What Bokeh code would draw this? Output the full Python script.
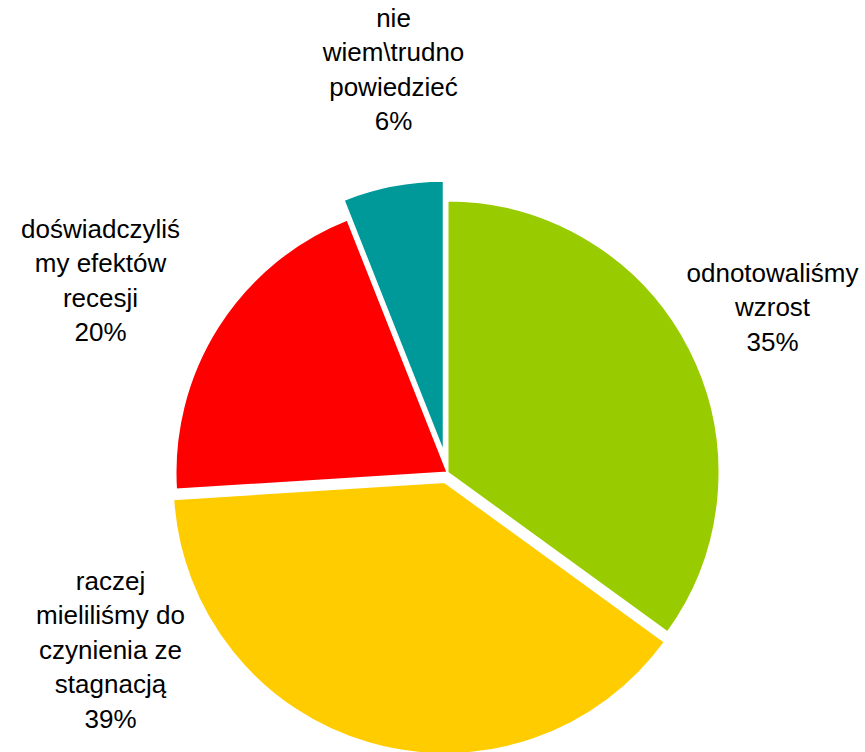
import math
from bokeh.plotting import figure
from bokeh.models import ColumnDataSource, Range1d
from bokeh.core.properties import value
from bokeh.embed import file_html
from bokeh.resources import INLINE

# ---- data ----
categories = ["odnotowaliśmy\nwzrost",
              "raczej\nmieliliśmy do\nczynienia ze\nstagnacją",
              "doświadczyliś\nmy efektów\nrecesji",
              "nie\nwiem\\trudno\npowiedzieć"]
shares = [35, 39, 20, 6]
colors = ["#99CC00", "#FFCC00", "#FF0000", "#009999"]

# ---- layout (picture-like coordinates: y measured from bottom of picture) ----
W, H = 865, 752
CX, CY, R = 447, 752 - 472, 272
explode = [0, 10, 0, 20]
label_pos = [(772, 752 - 272), (110, 752 - 580), (100, 752 - 228), (393, 752 - 17)]
LINE = 34.5
FONT = "Liberation Sans"
FSIZE = "26px"

total = sum(shares)
xs, ys, starts, ends = [], [], [], []
cum = 0.0
for s, e in zip(shares, explode):
    a0 = math.pi / 2 - cum / total * 2 * math.pi
    cum += s
    a1 = math.pi / 2 - cum / total * 2 * math.pi
    mid = (a0 + a1) / 2
    xs.append(CX + e * math.cos(mid))
    ys.append(CY + e * math.sin(mid))
    starts.append(a0)
    ends.append(a1)

p = figure(width=W, height=H, output_backend="svg", toolbar_location=None,
           x_range=Range1d(0, W), y_range=Range1d(752 - H, 752),
           min_border=0, min_border_left=0, min_border_right=0,
           min_border_top=0, min_border_bottom=0)
p.axis.visible = False
p.grid.visible = False
p.outline_line_color = None
p.background_fill_color = "white"
p.border_fill_color = "white"

src = ColumnDataSource(dict(x=xs, y=ys, start=starts, end=ends, color=colors))
p.wedge(x="x", y="y", radius=R, radius_units="data", start_angle="start", end_angle="end",
        direction="clock", fill_color="color", line_color="white", line_width=2, source=src)

tx, ty, tt = [], [], []
for cat, s, (lx, ly) in zip(categories, shares, label_pos):
    lines = cat.split("\n") + [f"{s}%"]
    for i, ln in enumerate(lines):
        tx.append(lx)
        ty.append(ly - i * LINE)
        tt.append(ln)

p.text(x=tx, y=ty, text=tt, text_align="center", text_baseline="middle",
       text_font=value(FONT), text_font_size=FSIZE, text_color="black")

open("out.html", "w").write(file_html(p, INLINE))
